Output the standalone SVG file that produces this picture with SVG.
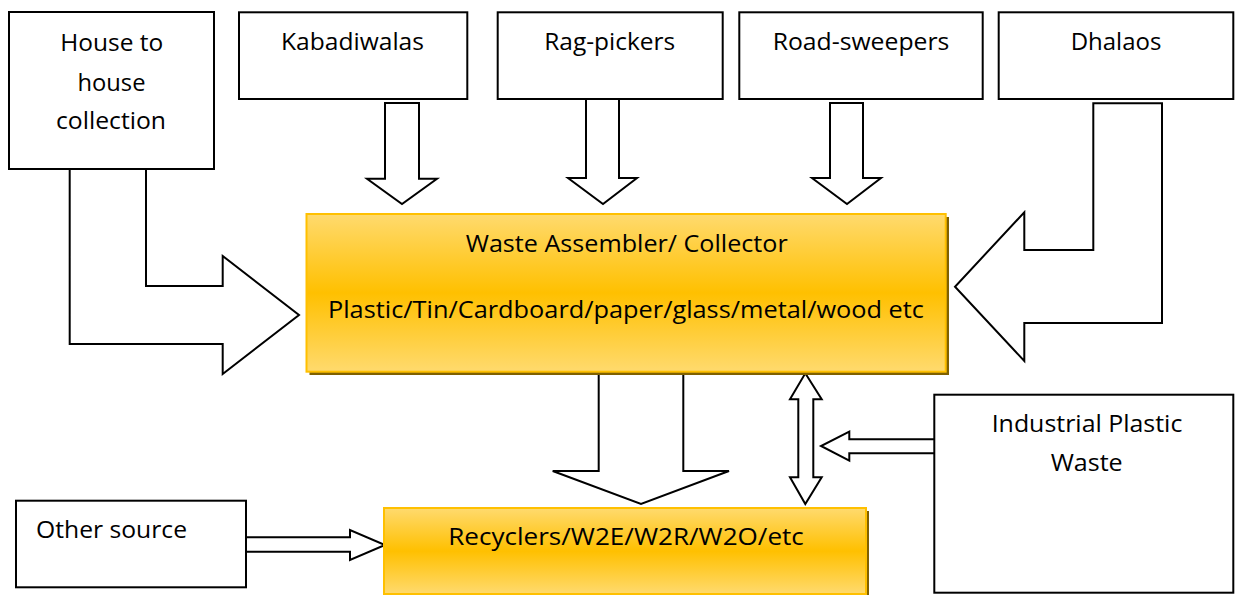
<svg xmlns="http://www.w3.org/2000/svg" width="1239" height="595" viewBox="0 0 1239 595">
<defs>
<linearGradient id="gold" x1="0" y1="0" x2="0" y2="1">
<stop offset="0" stop-color="#FFDA6E"/>
<stop offset="0.5" stop-color="#FFC000"/>
<stop offset="1" stop-color="#FFDA6E"/>
</linearGradient>
</defs>
<style>
.box{fill:#FFFFFF;stroke:#000000;stroke-width:2}
.gbox{fill:url(#gold);stroke:#FFC000;stroke-width:2}
.shadow{fill:#7F6000}
.arr{fill:#FFFFFF;stroke:#000000;stroke-width:2;stroke-linejoin:miter}
text{font-family:"Open Sans","Liberation Sans",sans-serif;font-size:24px;fill:#000000}
.c{text-anchor:middle}
</style>
<rect width="1239" height="595" fill="#FFFFFF"/>

<g id="connectors">
<path class="arr" d="M69.7,169 L69.7,344 L222.7,344 L222.7,374 L299,315 L222.7,256 L222.7,286 L146,286 L146,169"/>
<path class="arr" d="M385,103 L419,103 L419,178.7 L437,178.7 L402,204 L367,178.7 L385,178.7 Z"/>
<path class="arr" d="M586,99 L619,99 L619,178 L637,178 L603,204 L568,178 L586,178 Z"/>
<path class="arr" d="M830,103 L863,103 L863,178 L881,178 L847,204 L812,178 L830,178 Z"/>
<path class="arr" d="M1093.3,103.3 L1162,103.3 L1162,323 L1024.3,323 L1024.3,361 L955,286.7 L1024.3,212.3 L1024.3,250 L1093.3,250 Z"/>
<path class="arr" d="M598.7,373.3 L683.3,373.3 L683.3,471 L729,471 L641,504 L552.7,471 L598.7,471 Z"/>
<path class="arr" d="M805.3,373.3 L821.7,399.3 L813.3,399.3 L813.3,477.3 L821.7,477.3 L805.3,504 L790,477.3 L798.3,477.3 L798.3,399.3 L790,399.3 Z"/>
<path class="arr" d="M934.3,439.3 L849.3,439.3 L849.3,431.7 L821,446 L849.3,460.7 L849.3,453.3 L934.3,453.3"/>
<path class="arr" d="M246,537.3 L350,537.3 L350,530 L385,545 L350,560 L350,551.7 L246,551.7"/>
</g>

<g id="house">
<rect class="box" x="9" y="12" width="205" height="157"/>
<text class="c" x="111.7" y="50.7" textLength="103" lengthAdjust="spacingAndGlyphs">House to</text>
<text class="c" x="111.5" y="90.7" textLength="68" lengthAdjust="spacingAndGlyphs">house</text>
<text class="c" x="111" y="129.3" textLength="110" lengthAdjust="spacingAndGlyphs">collection</text>
</g>

<g id="kabadiwalas">
<rect class="box" x="239" y="12.3" width="228.3" height="86.7"/>
<text class="c" x="352.5" y="50" textLength="143" lengthAdjust="spacingAndGlyphs">Kabadiwalas</text>
</g>

<g id="ragpickers">
<rect class="box" x="497.7" y="12.3" width="225" height="86.7"/>
<text class="c" x="609.7" y="50" textLength="131" lengthAdjust="spacingAndGlyphs">Rag-pickers</text>
</g>

<g id="roadsweepers">
<rect class="box" x="739.3" y="12.3" width="243.4" height="86.7"/>
<text class="c" x="861" y="50" textLength="176.7" lengthAdjust="spacingAndGlyphs">Road-sweepers</text>
</g>

<g id="dhalaos">
<rect class="box" x="998.7" y="12.3" width="234.6" height="86.7"/>
<text class="c" x="1116" y="50" textLength="90.7" lengthAdjust="spacingAndGlyphs">Dhalaos</text>
</g>

<g id="assembler">
<rect class="shadow" x="309.5" y="217" width="639.5" height="158"/>
<rect class="gbox" x="306.5" y="214" width="639.2" height="157.7"/>
<text class="c" x="626.7" y="251.7" textLength="322" lengthAdjust="spacingAndGlyphs">Waste Assembler/ Collector</text>
<text class="c" x="626" y="318.3" textLength="596" lengthAdjust="spacingAndGlyphs">Plastic/Tin/Cardboard/paper/glass/metal/wood etc</text>
</g>

<g id="industrial">
<rect class="box" x="934.3" y="394.7" width="299" height="198"/>
<text class="c" x="1087" y="431.7" textLength="190.7" lengthAdjust="spacingAndGlyphs">Industrial Plastic</text>
<text class="c" x="1086.7" y="471" textLength="72" lengthAdjust="spacingAndGlyphs">Waste</text>
</g>

<g id="othersource">
<rect class="box" x="16" y="500.7" width="230" height="86.6"/>
<text x="36" y="538.3" textLength="151" lengthAdjust="spacingAndGlyphs">Other source</text>
</g>

<g id="recyclers">
<rect class="shadow" x="387" y="511" width="482" height="86"/>
<rect class="gbox" x="384" y="508" width="482" height="86"/>
<text class="c" x="626" y="545" textLength="355.7" lengthAdjust="spacingAndGlyphs">Recyclers/W2E/W2R/W2O/etc</text>
</g>
</svg>
